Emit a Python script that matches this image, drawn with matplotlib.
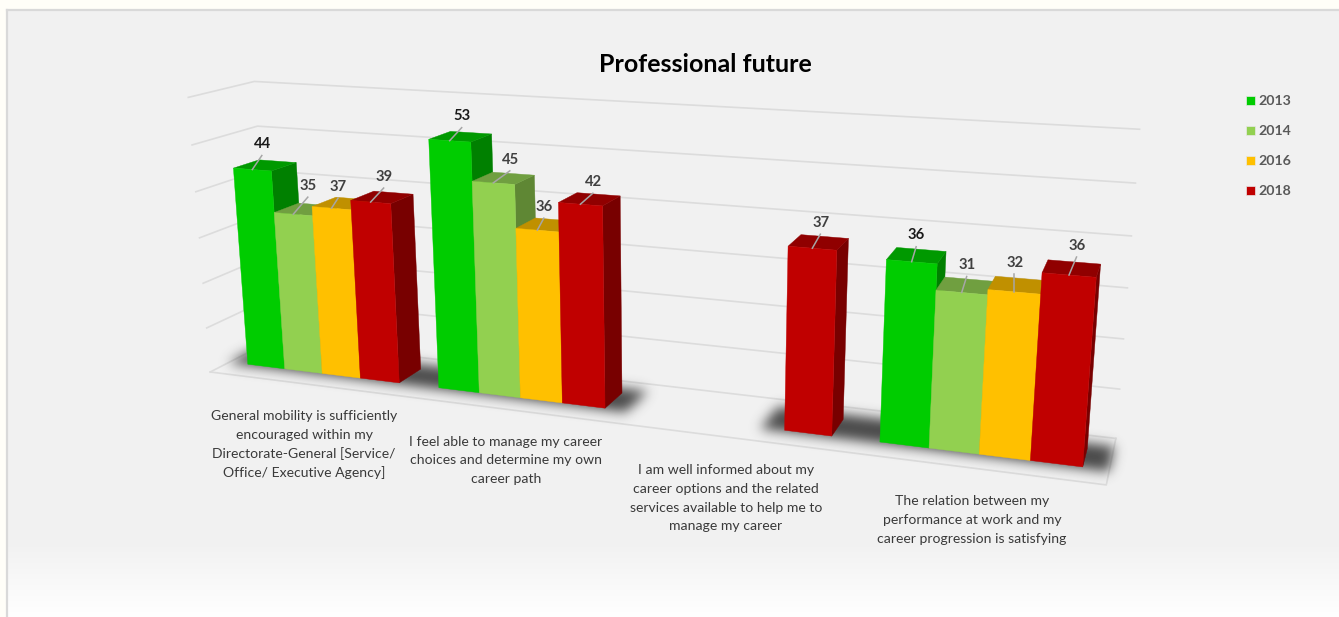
import numpy as np
import matplotlib
matplotlib.use("Agg")
import matplotlib.pyplot as plt
from matplotlib.patches import Polygon, Rectangle
from matplotlib.path import Path

plt.rcParams["font.family"] = ["Lato", "DejaVu Sans"]

W, H = 1339, 617

title = "Professional future"
years = ["2013", "2014", "2016", "2018"]
categories = [
    "General mobility is sufficiently\nencouraged within my\nDirectorate-General [Service/\nOffice/ Executive Agency]",
    "I feel able to manage my career\nchoices and determine my own\ncareer path",
    "I am well informed about my\ncareer options and the related\nservices available to help me to\nmanage my career",
    "The relation between my\nperformance at work and my\ncareer progression is satisfying",
]
values_2013 = [44, 53, None, 36]
values_2014 = [35, 45, None, 31]
values_2016 = [37, 36, None, 32]
values_2018 = [39, 42, 37, 36]
series = [values_2013, values_2014, values_2016, values_2018]
grid_values = [0, 10, 20, 30, 40, 50, 60]

# face colours per series: front, top, side
front_colors = ["#00cc00", "#92d050", "#ffc000", "#c00000"]
top_colors = ["#009900", "#709f40", "#c09000", "#900000"]
side_colors = ["#008000", "#5f8734", "#a07c00", "#780000"]
value_colors = ["#1a1a1a", "#404040", "#404040", "#404040"]

# perspective camera: (slot, depth, value) -> canvas pixels
CAMERA = np.array([
    [34.15645131368999, 31.173763549357524, -0.49798083980334995, 229.64796422306907],
    [1.244566068914474, -3.920515858249521, -4.561956869527894, 362.0085500907021],
    [-0.008858729858207681, 0.025180938213614112, -0.0007377032588280485, 1.0],
])
FLOOR_FRONT, FLOOR_BACK = -0.75, 1.75
FLOOR_END = 20

# where each value label sits relative to the middle of its bar's front top edge
label_offsets = {
    (0, 0): (9.5, -26), (0, 1): (14.5, -29), (0, 2): (6.5, -22), (0, 3): (13, -26),
    (1, 0): (12, -25), (1, 1): (16.5, -24), (1, 2): (6.5, -24), (1, 3): (12.5, -23),
    (2, 3): (8, -26),
    (3, 0): (4.5, -27), (3, 1): (5, -28), (3, 2): (0, -30), (3, 3): (7.5, -30),
}
# centre of the first line of each category label, on the canvas
category_pos = [(304, 416), (506, 441.5), (726, 470), (972, 501)]


def project(x, y, z):
    h = CAMERA @ np.array([x, y, z, 1.0])
    return h[:2] / h[2]


def face(points):
    return [project(*p) for p in points]


def blurred(mask, sigma):
    r = int(3 * sigma)
    k = np.exp(-0.5 * (np.arange(-r, r + 1) / sigma) ** 2)
    k /= k.sum()
    out = np.apply_along_axis(lambda c: np.convolve(c, k, mode="same"), 0, mask)
    return np.apply_along_axis(lambda c: np.convolve(c, k, mode="same"), 1, out)


fig = plt.figure(figsize=(W / 100, H / 100), dpi=100, facecolor="#fffef8")
ax = fig.add_axes([0, 0, 1, 1])
ax.set_xlim(0, W)
ax.set_ylim(H, 0)
ax.axis("off")

# panel: flat grey that fades to white at the bottom
ramp = np.where(np.arange(H) < 545, 0.949, 0.949 + (np.arange(H) - 545) / (H - 545) * 0.051)
panel = np.dstack([ramp, ramp, ramp])[:, None, :].reshape(H, 1, 3)
ax.imshow(panel, extent=(8, W, H, 11), aspect="auto", zorder=0)
ax.set_xlim(0, W)
ax.set_ylim(H, 0)
ax.plot([7, 7], [H, 10], color="#d9d9d9", lw=1.6, zorder=1)
ax.plot([7, W], [10, 10], color="#d9d9d9", lw=1.6, zorder=1)

# gridlines on the back and left walls, plus the floor edges
for g in grid_values:
    pts = np.array(face([(0, FLOOR_FRONT, g), (0, FLOOR_BACK, g), (FLOOR_END, FLOOR_BACK, g)]))
    ax.plot(pts[:, 0], pts[:, 1], color="#dcdcdc", lw=1.2, zorder=2)
pts = np.array(face([(0, FLOOR_FRONT, 0), (FLOOR_END, FLOOR_FRONT, 0), (FLOOR_END, FLOOR_BACK, 0)]))
ax.plot(pts[:, 0], pts[:, 1], color="#dcdcdc", lw=1.2, zorder=2)

# soft shadows under each group of bars
yy, xx = np.mgrid[0:H, 0:W]
grid_pts = np.column_stack([xx.ravel() + 0.5, yy.ravel() + 0.5])
mask = np.zeros((H, W))
for i in range(len(categories)):
    slots = [k for k, s in enumerate(series) if s[i] is not None]
    x0 = 5 * i + 0.5 + slots[0]
    x1 = 5 * i + 0.5 + slots[-1] + 1
    outline = face([(x0 - 0.5, -0.08, 0), (x1 + 0.5, -0.08, 0), (x1 + 0.5, 1.3, 0), (x0 - 0.5, 1.3, 0)])
    mask[Path(outline).contains_points(grid_pts).reshape(H, W)] = 1
shadow = np.zeros((H, W, 4))
shadow[..., :3] = 0.25
shadow[..., 3] = blurred(mask, 6) * 0.95
ax.imshow(shadow, extent=(0, W, H, 0), aspect="auto", zorder=3)
ax.set_xlim(0, W)
ax.set_ylim(H, 0)

# bars, left to right so each one covers the side of its left neighbour
z = 4
for i in range(len(categories)):
    for k, s in enumerate(series):
        v = s[i]
        if v is None:
            continue
        x0 = 5 * i + 0.5 + k
        x1 = x0 + 1
        faces = [
            (face([(x1, 0, 0), (x1, 1, 0), (x1, 1, v), (x1, 0, v)]), side_colors[k]),
            (face([(x0, 0, v), (x1, 0, v), (x1, 1, v), (x0, 1, v)]), top_colors[k]),
            (face([(x0, 0, 0), (x1, 0, 0), (x1, 0, v), (x0, 0, v)]), front_colors[k]),
        ]
        for poly, c in faces:
            ax.add_patch(Polygon(poly, closed=True, fc=c, ec=c, lw=0.3, zorder=z))
        z += 1

# value labels with leader lines
for i in range(len(categories)):
    for k, s in enumerate(series):
        v = s[i]
        if v is None:
            continue
        x0 = 5 * i + 0.5 + k
        sx, sy = project(x0 + 0.5, 0, v)
        dx, dy = label_offsets[(i, k)]
        ax.plot([sx, sx + dx], [sy, sy + dy + 12], color="#a6a6a6", lw=1.1, zorder=60)
        ax.text(sx + dx + 0.5, sy + dy + 0.7, str(v), ha="center", va="center", fontsize=10.6,
                fontweight="bold", color=value_colors[k], zorder=61)

for (cx, cy), label in zip(category_pos, categories):
    for n, line in enumerate(label.split("\n")):
        ax.text(cx, cy + n * 18.8, line, ha="center", va="center", fontsize=10.1,
                color="#3a3a3a", zorder=61)

ax.text(705, 65, title, ha="center", va="center", fontsize=18, fontweight="bold",
        color="#000000", zorder=61)

# legend
for n, (year, c) in enumerate(zip(years, front_colors)):
    ly = 100 + n * 30
    ax.add_patch(Rectangle((1246, ly - 4), 8.5, 8.5, fc=c, ec="#e8e8e8", lw=0.5, zorder=61))
    ax.text(1258.5, ly + 0.8, year, ha="left", va="center", fontsize=10.2, fontweight="bold",
            color="#595959", zorder=61)

fig.savefig("out.png", dpi=100, facecolor=fig.get_facecolor())
